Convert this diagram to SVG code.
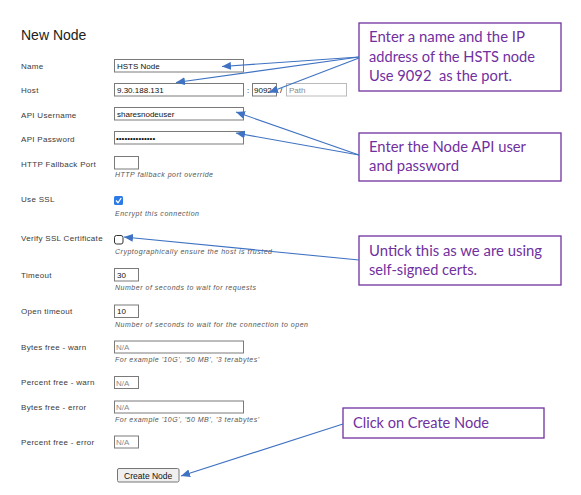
<svg xmlns="http://www.w3.org/2000/svg" width="581" height="495" viewBox="0 0 581 495">
<style>
.lbl{font-family:"Liberation Sans",Arial,sans-serif;font-size:8px;letter-spacing:0.3px;fill:#3a3a3a}
.val{font-family:"Liberation Sans",Arial,sans-serif;font-size:8px;fill:#111}
.ph{font-family:"Liberation Sans",Arial,sans-serif;font-size:8px;fill:#8a8a8a}
.hint{font-family:"Liberation Sans",Arial,sans-serif;font-size:7px;font-style:italic;fill:#555}
.inp{fill:#fff;stroke:#7a7a7a;stroke-width:1}
.call{fill:#fff;stroke:#7030A0;stroke-width:1.3}
.ct{font-family:Lato,"Open Sans",sans-serif;font-size:14.5px;fill:#7030A0}
.con{stroke:#3f72c2;stroke-width:1.1;fill:none;marker-end:url(#ah)}
</style>
<defs>
<marker id="ah" markerUnits="userSpaceOnUse" markerWidth="10" markerHeight="8" refX="9" refY="4" orient="auto">
<path d="M0,0 L9,4 L0,8 Z" fill="#3f72c2"/>
</marker>
</defs>
<rect width="581" height="495" fill="#fff"/>
<text x="21" y="40" style="font-family:'Liberation Sans',Arial,sans-serif;font-size:14px;fill:#222">New Node</text>

<g id="name">
<text class="lbl" x="21" y="69">Name</text>
<rect class="inp" x="114.5" y="59.5" width="129" height="12.5"/>
<text class="val" x="117" y="69">HSTS Node</text>
</g>
<g id="host">
<text class="lbl" x="21" y="93">Host</text>
<rect class="inp" x="114.5" y="83.5" width="129" height="12.5"/>
<text class="val" x="117" y="93">9.30.188.131</text>
<text class="val" x="247" y="93">:</text>
<rect class="inp" x="252.5" y="83.5" width="24" height="12.5"/>
<svg x="253" y="84" width="23" height="12"><text class="val" x="1" y="9">9092</text></svg>
<text class="val" x="280" y="93">/</text>
<rect x="286.5" y="83.5" width="60" height="12.5" fill="#fff" stroke="#bbb"/>
<text class="ph" x="289" y="93">Path</text>
</g>
<g id="apiuser">
<text class="lbl" x="21" y="118">API Username</text>
<rect class="inp" x="114.5" y="107.5" width="129" height="12.5"/>
<text class="val" x="117" y="117">sharesnodeuser</text>
</g>
<g id="apipass">
<text class="lbl" x="21" y="142">API Password</text>
<rect class="inp" x="114.5" y="131.5" width="129" height="12.5"/>
<text class="val" x="116" y="141">••••••••••••••</text>
</g>
<g id="fallback">
<text class="lbl" x="21" y="167">HTTP Fallback Port</text>
<rect class="inp" x="114.5" y="156.5" width="24" height="12.5"/>
<text class="hint" x="115" y="177" textLength="98" lengthAdjust="spacing">HTTP fallback port override</text>
</g>
<g id="usessl">
<text class="lbl" x="21" y="202">Use SSL</text>
<rect x="114" y="196" width="9" height="9" rx="1.5" fill="#2b7ae8"/>
<path d="M116,200.5 L118,202.8 L121.2,198" stroke="#fff" stroke-width="1.3" fill="none"/>
<text class="hint" x="115" y="216" textLength="84" lengthAdjust="spacing">Encrypt this connection</text>
</g>
<g id="verifyssl">
<text class="lbl" x="21" y="241">Verify SSL Certificate</text>
<rect x="114.5" y="235.5" width="8.5" height="8.5" rx="2" fill="#fff" stroke="#333" stroke-width="1"/>
<text class="hint" x="115" y="254" textLength="157" lengthAdjust="spacing">Cryptographically ensure the host is trusted</text>
</g>
<g id="timeout">
<text class="lbl" x="21" y="278">Timeout</text>
<rect class="inp" x="114.5" y="268.5" width="24" height="12.5"/>
<text class="val" x="117" y="278">30</text>
<text class="hint" x="115" y="290" textLength="141" lengthAdjust="spacing">Number of seconds to wait for requests</text>
</g>
<g id="opentimeout">
<text class="lbl" x="21" y="314">Open timeout</text>
<rect class="inp" x="114.5" y="305" width="24" height="12.5"/>
<text class="val" x="117" y="314">10</text>
<text class="hint" x="115" y="327" textLength="193" lengthAdjust="spacing">Number of seconds to wait for the connection to open</text>
</g>
<g id="byteswarn">
<text class="lbl" x="21" y="350">Bytes free - warn</text>
<rect class="inp" x="114.5" y="341" width="129" height="12"/>
<text class="ph" x="116" y="350">N/A</text>
<text class="hint" x="115" y="362" textLength="144" lengthAdjust="spacing">For example '10G', '50 MB', '3 terabytes'</text>
</g>
<g id="percentwarn">
<text class="lbl" x="21" y="385">Percent free - warn</text>
<rect class="inp" x="114.5" y="376.5" width="24" height="12"/>
<text class="ph" x="116" y="385.5">N/A</text>
</g>
<g id="byteserror">
<text class="lbl" x="21" y="410">Bytes free - error</text>
<rect class="inp" x="114.5" y="401" width="129" height="12"/>
<text class="ph" x="116" y="410">N/A</text>
<text class="hint" x="115" y="422" textLength="144" lengthAdjust="spacing">For example '10G', '50 MB', '3 terabytes'</text>
</g>
<g id="percenterror">
<text class="lbl" x="21" y="445">Percent free - error</text>
<rect class="inp" x="114.5" y="436" width="24" height="12"/>
<text class="ph" x="116" y="445">N/A</text>
</g>
<g id="createnode">
<rect x="117.5" y="468.5" width="61.5" height="13.5" rx="1.5" fill="#efefef" stroke="#767676"/>
<text class="val" x="148.2" y="478.5" text-anchor="middle" style="font-size:8.5px">Create Node</text>
</g>

<g id="callout1">
<rect class="call" x="359" y="23" width="202" height="68"/>
<text class="ct" x="369" y="42" textLength="156" lengthAdjust="spacingAndGlyphs">Enter a name and the IP</text>
<text class="ct" x="369" y="61.5" textLength="166" lengthAdjust="spacingAndGlyphs">address of the HSTS node</text>
<text class="ct" x="369" y="81" textLength="143" lengthAdjust="spacingAndGlyphs" xml:space="preserve">Use 9092  as the port.</text>
</g>
<g id="callout2">
<rect class="call" x="359" y="133" width="202" height="48"/>
<text class="ct" x="369" y="152" textLength="157" lengthAdjust="spacingAndGlyphs">Enter the Node API user</text>
<text class="ct" x="369" y="171" textLength="90" lengthAdjust="spacingAndGlyphs">and password</text>
</g>
<g id="callout3">
<rect class="call" x="359" y="236" width="202" height="49"/>
<text class="ct" x="369" y="256" textLength="173" lengthAdjust="spacingAndGlyphs">Untick this as we are using</text>
<text class="ct" x="369" y="275" textLength="108" lengthAdjust="spacingAndGlyphs">self-signed certs.</text>
</g>
<g id="callout4">
<rect class="call" x="343" y="408" width="201" height="30"/>
<text class="ct" x="353" y="428" textLength="136" lengthAdjust="spacingAndGlyphs">Click on Create Node</text>
</g>

<g id="connectors">
<line class="con" x1="359" y1="57" x2="222" y2="66.5"/>
<line class="con" x1="359" y1="57" x2="176" y2="82.5"/>
<line class="con" x1="359" y1="58" x2="269" y2="92.5"/>
<line class="con" x1="359" y1="155" x2="236" y2="112"/>
<line class="con" x1="359" y1="155" x2="236" y2="133"/>
<line class="con" x1="359" y1="260" x2="124" y2="237"/>
<line class="con" x1="343" y1="424" x2="181" y2="476"/>
</g>
</svg>
